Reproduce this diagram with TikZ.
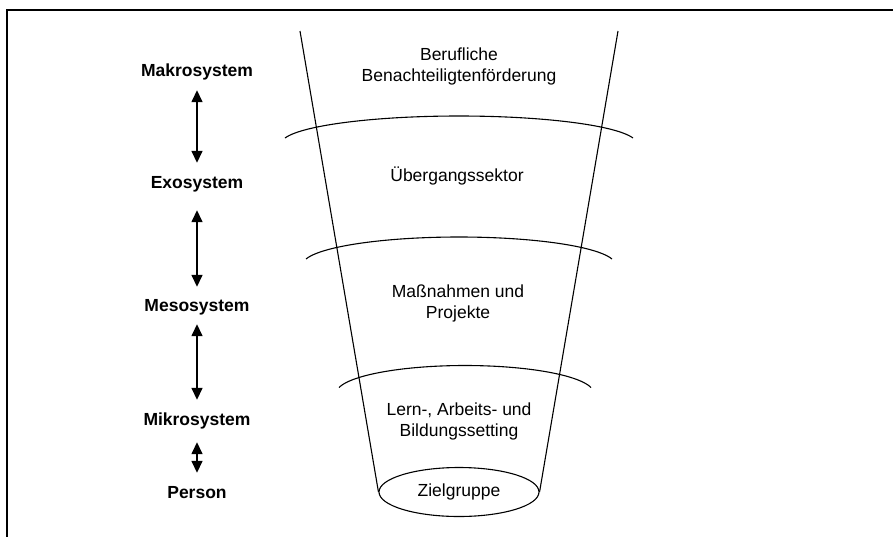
\documentclass[tikz,border=0pt]{standalone}
\usepackage{fontspec}
\setmainfont{Liberation Sans}
\usetikzlibrary{arrows.meta,shapes.geometric}
\begin{document}
\begin{tikzpicture}[x=1pt,y=-1pt,
  lbl/.style={font=\fontsize{17.5}{21}\selectfont\bfseries, inner sep=0pt, text height=13pt, text depth=4pt, anchor=base},
  ftxt/.style={font=\fontsize{17.5}{21}\selectfont, inner sep=0pt, align=center},
  dbl/.style={line width=1.5pt, {Triangle[length=12pt,width=11pt]}-{Triangle[length=12pt,width=11pt]}},
  fline/.style={line width=1.1pt},
]
\useasboundingbox (0,0) rectangle (893,536);
\fill[white] (0,0) rectangle (893,536);
% frame (only top and left edges visible)
\draw[line width=1.5pt] (7,540) -- (7,10) -- (897,10);

% left labels
\node[lbl] (mak)   at (197,76)  {Makrosystem};
\node[lbl] (exo)   at (197,188) {Exosystem};
\node[lbl] (meso)  at (197,311) {Mesosystem};
\node[lbl] (mikro) at (197,425) {Mikrosystem};
\node[lbl] (pers)  at (197,498) {Person};

\draw[dbl, shorten <=10pt, shorten >=12pt] (mak.south) -- (exo.north);
\draw[dbl, shorten <=18pt, shorten >=11pt] (exo.south) -- (meso.north);
\draw[dbl, shorten <=9pt,  shorten >=12pt] (meso.south) -- (mikro.north);
\draw[dbl, shorten <=13pt, shorten >=12pt] (mikro.south) -- (pers.north);

% funnel
\node[ftxt, draw, ellipse, line width=1.1pt, minimum width=160pt, minimum height=49pt] (ziel) at (459,492) {Zielgruppe};
\coordinate (tl) at (300,31);
\coordinate (tr) at (618,31);
\draw[fline] (tl) -- (ziel.west);
\draw[fline] (tr) -- (ziel.east);

% rims
\draw[fline] plot[domain=192:348, samples=80] ({459+177.9*cos(\x)},{143.8+27.8*sin(\x)});
\draw[fline] plot[domain=192:348, samples=80] ({459+156.4*cos(\x)},{264.8+27.8*sin(\x)});
\draw[fline] plot[domain=192:348, samples=80] ({465+128.8*cos(\x)},{393.3+27.8*sin(\x)});

% funnel texts
\node[ftxt] (beruf) at (459,66.5) {Berufliche\\Benachteiligtenförderung};
\node[ftxt] (ueber) at (457,176) {Übergangssektor};
\node[ftxt] (mass)  at (458,303) {Maßnahmen und\\Projekte};
\node[ftxt] (lern)  at (459,421.5) {Lern-, Arbeits- und\\Bildungssetting};
\end{tikzpicture}
\end{document}
